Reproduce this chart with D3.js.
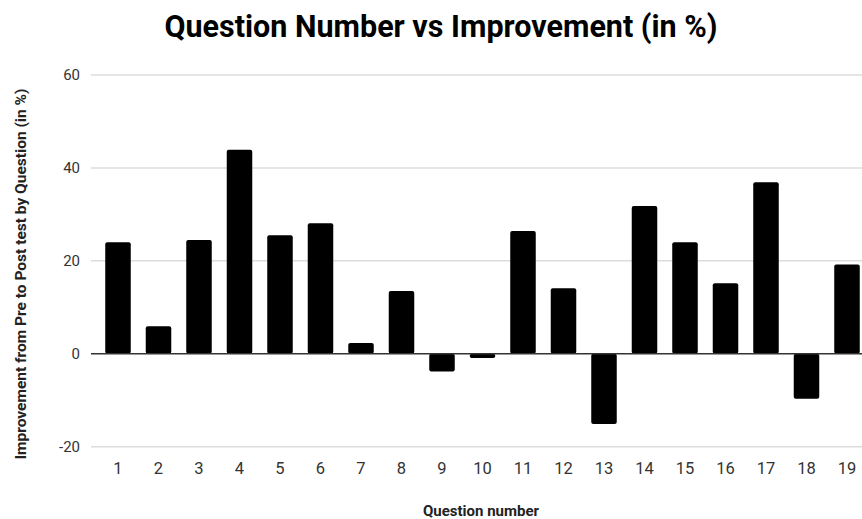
<!DOCTYPE html>
<html>
<head>
<meta charset="utf-8">
<script src="https://cdn.jsdelivr.net/npm/d3@7"></script>
<style>
  html, body { margin: 0; padding: 0; background: #fff; }
  svg { display: block; font-family: Roboto, "Noto Sans", sans-serif; }
</style>
</head>
<body>
<svg id="chart" width="862" height="519"></svg>
<script>
// Question numbers and improvement from pre to post test (in %)
const questions = ["1","2","3","4","5","6","7","8","9","10","11","12","13","14","15","16","17","18","19"];
const improvement = [24.0, 5.9, 24.5, 43.9, 25.5, 28.1, 2.3, 13.5, -3.8, -0.9, 26.4, 14.1, -15.1, 31.8, 24.0, 15.2, 36.9, -9.7, 19.2];
const yTicks = [-20, 0, 20, 40, 60];

const svg = d3.select("#chart");
const plot = { left: 91, right: 862, top: 75, bottom: 446.7 };

const y = d3.scaleLinear().domain([-20, 60]).range([plot.bottom, plot.top]);
const x = d3.scaleBand()
  .domain(questions)
  .range([97.75, 867.25])
  .paddingInner(0.37)
  .paddingOuter(0.185);

// Horizontal gridlines
svg.append("g")
  .selectAll("line")
  .data(yTicks.filter(d => d !== 0))
  .join("line")
  .attr("x1", plot.left).attr("x2", plot.right)
  .attr("y1", d => y(d)).attr("y2", d => y(d))
  .attr("stroke", "#dcdcdc").attr("stroke-width", 1.5);

// Y axis labels (plain hyphen for negatives)
const yAxis = d3.axisLeft(y).tickValues(yTicks).tickSize(0).tickPadding(0)
  .tickFormat(d => String(d));
svg.append("g")
  .attr("transform", `translate(80,0)`)
  .call(yAxis)
  .call(g => g.select(".domain").remove())
  .call(g => g.selectAll("text")
    .attr("font-family", "Roboto, sans-serif")
    .attr("font-size", 15)
    .attr("fill", "#333"));

// Bars
svg.append("g")
  .selectAll("rect")
  .data(questions.map((q, i) => ({ q, v: improvement[i] })))
  .join("rect")
  .attr("x", d => x(d.q))
  .attr("width", x.bandwidth())
  .attr("y", d => Math.min(y(d.v), y(0)))
  .attr("height", d => Math.abs(y(d.v) - y(0)))
  .attr("rx", 2)
  .attr("fill", "#000");

// Zero baseline
svg.append("line")
  .attr("x1", plot.left).attr("x2", plot.right)
  .attr("y1", y(0)).attr("y2", y(0))
  .attr("stroke", "#333").attr("stroke-width", 1.5);

// X axis labels
const xAxis = d3.axisBottom(x).tickSize(0).tickPadding(0);
svg.append("g")
  .attr("transform", `translate(0,474)`)
  .call(xAxis)
  .call(g => g.select(".domain").remove())
  .call(g => g.selectAll("text")
    .attr("dy", 0)
    .attr("font-family", "Roboto, sans-serif")
    .attr("font-size", 16.5)
    .attr("fill", "#333"));

// Title
svg.append("text")
  .attr("x", 441).attr("y", 37)
  .attr("text-anchor", "middle")
  .attr("font-family", "Roboto, sans-serif")
  .attr("font-weight", "bold")
  .attr("font-size", 30.5)
  .attr("fill", "#000")
  .text("Question Number vs Improvement (in %)");

// Axis titles
svg.append("text")
  .attr("x", 481).attr("y", 516)
  .attr("text-anchor", "middle")
  .attr("font-family", "Roboto, sans-serif")
  .attr("font-weight", "bold")
  .attr("font-size", 15)
  .attr("fill", "#222")
  .text("Question number");

svg.append("text")
  .attr("transform", "translate(26,274) rotate(-90)")
  .attr("text-anchor", "middle")
  .attr("font-family", "Roboto, sans-serif")
  .attr("font-weight", "bold")
  .attr("font-size", 15.5)
  .attr("fill", "#222")
  .text("Improvement from Pre to Post test by Question (in %)");
</script>
</body>
</html>
